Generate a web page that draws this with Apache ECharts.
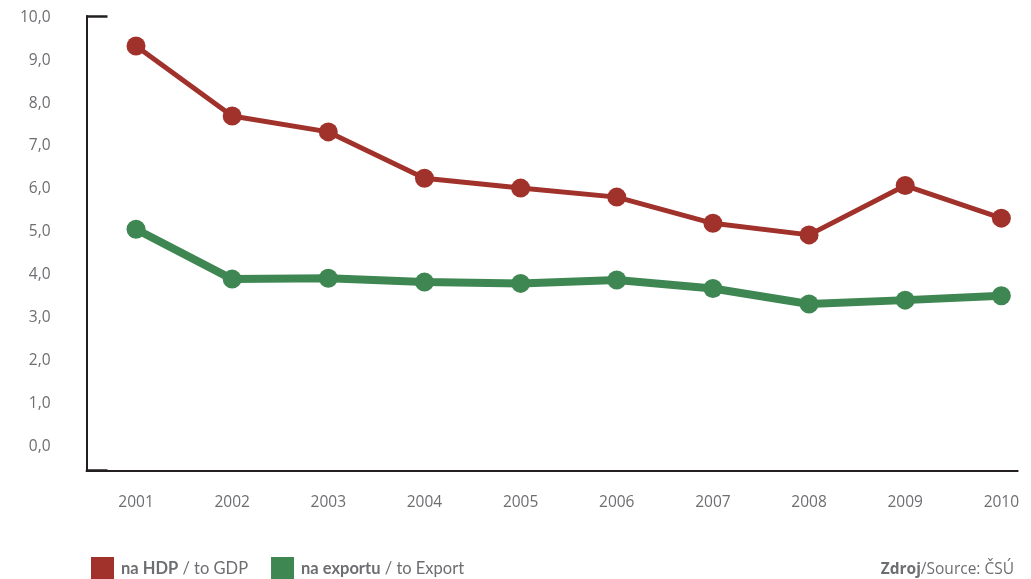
<!DOCTYPE html>
<html>
<head>
<meta charset="utf-8">
<style>
  html, body { margin: 0; padding: 0; background: #ffffff; }
  #chart { width: 1031px; height: 579px; }
</style>
<script src="https://cdn.jsdelivr.net/npm/echarts@6/dist/echarts.min.js"></script>
</head>
<body>
<div id="chart"></div>
<script>
const years = [2001, 2002, 2003, 2004, 2005, 2006, 2007, 2008, 2009, 2010];
const gdpValues = [9.33, 7.70, 7.33, 6.25, 6.02, 5.81, 5.20, 4.93, 6.08, 5.32];
const exportValues = [5.06, 3.90, 3.92, 3.83, 3.80, 3.88, 3.68, 3.32, 3.41, 3.51];
const yTickValues = [0, 1, 2, 3, 4, 5, 6, 7, 8, 9, 10];
const seriesNames = ['na HDP / to GDP', 'na exportu / to Export'];

const Y_MIN = -0.555, Y_MAX = 10.03;
const labelColor = '#6d6e71';
const axisColor = '#231f20';
const legendFont = 'Lato, "Open Sans", sans-serif';

const chart = echarts.init(document.getElementById('chart'), null, { renderer: 'canvas' });

function pairs(vals) { return years.map((y, i) => [y, vals[i]]); }

chart.setOption({
  animation: false,
  backgroundColor: '#ffffff',
  grid: { left: 86.5, right: 13.3, top: 16, bottom: 108.7, containLabel: false },
  title: {
    right: 12,
    top: 557,
    text: '{b|Zdroj}{n|/Source: ČSÚ}',
    textStyle: {
      rich: {
        b: { fontFamily: '"Open Sans", sans-serif', fontWeight: 'bold', fontSize: 15.5, color: labelColor },
        n: { fontFamily: '"Open Sans", sans-serif', fontWeight: 'normal', fontSize: 15.5, color: labelColor }
      }
    }
  },
  legend: {
    left: 86,
    top: 552,
    icon: 'rect',
    itemWidth: 23,
    itemHeight: 23,
    itemGap: 23,
    data: seriesNames,
    formatter: function (name) {
      const parts = name.split(' / ');
      return '{b|' + parts[0] + '}{n| / ' + parts[1] + '}';
    },
    textStyle: {
      padding: [0, 0, 0, 2],
      rich: {
        b: { fontFamily: legendFont, fontWeight: 'bold', fontSize: 16.5, color: labelColor },
        n: { fontFamily: legendFont, fontWeight: 'normal', fontSize: 16.5, color: labelColor }
      }
    }
  },
  xAxis: {
    type: 'value',
    min: 2000.485,
    max: 2010.17,
    splitLine: { show: false },
    axisTick: { show: false },
    axisLine: { show: true, onZero: false, lineStyle: { color: axisColor, width: 2 } },
    axisLabel: {
      customValues: years,
      formatter: v => String(v),
      color: labelColor,
      fontFamily: '"Open Sans", sans-serif',
      fontSize: 15.5,
      margin: 24
    }
  },
  yAxis: {
    type: 'value',
    min: Y_MIN,
    max: Y_MAX,
    splitLine: { show: false },
    axisLine: { show: true, onZero: false, lineStyle: { color: axisColor, width: 2 } },
    axisTick: {
      show: true,
      inside: true,
      length: 21,
      customValues: [Y_MIN, Y_MAX],
      lineStyle: { color: axisColor, width: 2.5 }
    },
    axisLabel: {
      customValues: yTickValues,
      formatter: v => v.toFixed(1).replace('.', ','),
      color: labelColor,
      fontFamily: '"Open Sans", sans-serif',
      fontSize: 15.5,
      margin: 36
    }
  },
  series: [
    {
      name: seriesNames[0],
      type: 'line',
      data: pairs(gdpValues),
      symbol: 'circle',
      symbolSize: 19,
      itemStyle: { color: '#a0322b' },
      lineStyle: { color: '#a0322b', width: 5 },
      z: 3
    },
    {
      name: seriesNames[1],
      type: 'line',
      data: pairs(exportValues),
      symbol: 'circle',
      symbolSize: 19,
      itemStyle: { color: '#3f8752' },
      lineStyle: { color: '#3f8752', width: 8 },
      z: 2
    }
  ]
});
</script>
</body>
</html>
